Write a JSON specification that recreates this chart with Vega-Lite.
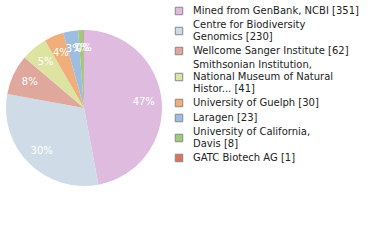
{
  "$schema": "https://vega.github.io/schema/vega-lite/v6.json",
  "width": 168,
  "height": 216,
  "padding": 0,
  "autosize": {"type": "pad"},
  "background": "white",
  "view": {"stroke": null},
  "data": {"values": [
    {"inst": "Mined from GenBank, NCBI [351]", "n": 351, "pct": "47%", "ord": 1},
    {"inst": "Centre for Biodiversity|Genomics [230]", "n": 230, "pct": "30%", "ord": 2},
    {"inst": "Wellcome Sanger Institute [62]", "n": 62, "pct": "8%", "ord": 3},
    {"inst": "Smithsonian Institution,|National Museum of Natural|Histor... [41]", "n": 41, "pct": "5%", "ord": 4},
    {"inst": "University of Guelph [30]", "n": 30, "pct": "4%", "ord": 5},
    {"inst": "Laragen [23]", "n": 23, "pct": "3%", "ord": 6},
    {"inst": "University of California,|Davis [8]", "n": 8, "pct": "1%", "ord": 7},
    {"inst": "GATC Biotech AG [1]", "n": 1, "pct": "0%", "ord": 8}
  ]},
  "encoding": {
    "theta": {"field": "n", "type": "quantitative", "stack": true},
    "order": {"field": "ord", "type": "ordinal"}
  },
  "layer": [
    {
      "mark": {"type": "arc", "outerRadius": 78},
      "encoding": {
        "color": {
          "field": "inst", "type": "nominal", "sort": null,
          "scale": {"range": ["#dfbcdf", "#cfdbe6", "#e0a89c", "#dde3a1", "#f0ae7a", "#9fbde0", "#9dcb7d", "#dc735c"]},
          "legend": {
            "title": null,
            "orient": "none",
            "legendX": 174,
            "legendY": 6,
            "symbolType": "square",
            "symbolSize": 56,
            "symbolStrokeColor": "#888",
            "symbolStrokeWidth": 1,
            "labelFont": "DejaVu Sans",
            "labelFontSize": 10,
            "labelColor": "#222",
            "labelLimit": 300,
            "labelOffset": 9,
            "labelBaseline": "middle",
            "labelExpr": "split(datum.label, '|')",
            "rowPadding": 3,
            "encode": {
              "labels": {"update": {
                "lineHeight": {"value": 12},
                "dy": {"signal": "-(length(split(datum.label, '|')) - 1) * 6"}
              }}
            }
          }
        }
      }
    },
    {
      "mark": {"type": "text", "radius": 60, "color": "white", "font": "DejaVu Sans", "fontSize": 10},
      "encoding": {"text": {"field": "pct"}}
    }
  ]
}
